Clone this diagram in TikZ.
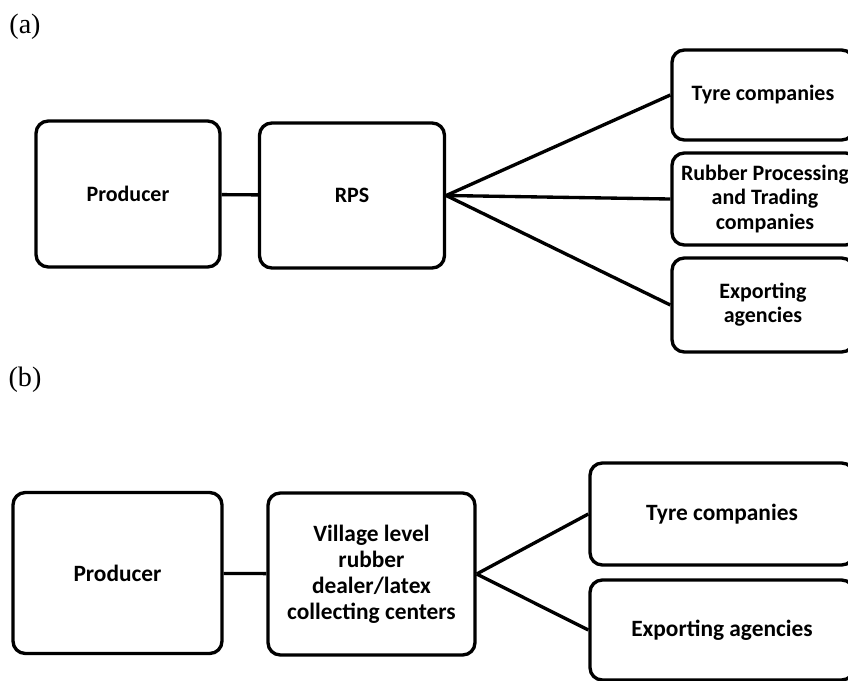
\documentclass[tikz,border=0pt]{standalone}
\usepackage{fontspec}
\setmainfont{Liberation Serif}
\newfontfamily\boxfont{Carlito}
\usetikzlibrary{positioning}

\begin{document}
\begin{tikzpicture}[x=1cm,y=1cm]
\tikzset{
  chainbox/.style={draw,rounded corners=7pt,line width=1.9pt,align=center,
    font=\boxfont\bfseries\fontsize{12.5}{13.8}\selectfont},
  chainboxb/.style={chainbox,font=\boxfont\bfseries\fontsize{13.3}{14.8}\selectfont},
  link/.style={line width=1.9pt},
  panel/.style={font=\fontsize{16}{18}\selectfont}
}
\clip (0,0) rectangle (16.96,-13.62);
% (a)
\node[panel] (lab_a) at (0.50,-0.54) {(a)};
\node[chainbox,minimum width=3.68cm,minimum height=2.92cm] (a_prod) at (2.56,-3.88) {Producer};
\node[chainbox,minimum width=3.70cm,minimum height=2.90cm] (a_rps) at (7.04,-3.91) {RPS};
\node[chainbox,minimum width=3.64cm,minimum height=1.80cm] (a_tyre) at (15.26,-1.90) {Tyre companies};
\node[chainbox,minimum width=3.72cm,minimum height=1.84cm] (a_rpt) at (15.30,-3.98) {Rubber Processing\\and Trading\\companies};
\node[chainbox,minimum width=3.64cm,minimum height=1.88cm] (a_exp) at (15.26,-6.10) {Exporting\\agencies};
\draw[link] (a_prod) -- (a_rps);
\draw[link] (a_rps.east) -- (a_tyre.west);
\draw[link] (a_rps.east) -- (a_rpt.west);
\draw[link] (a_rps.east) -- (a_exp.west);
% (b)
\node[panel] (lab_b) at (0.50,-7.60) {(b)};
\node[chainboxb,minimum width=4.18cm,minimum height=3.22cm] (b_prod) at (2.35,-11.46) {Producer};
\node[chainboxb,minimum width=4.14cm,minimum height=3.24cm] (b_vil) at (7.43,-11.48) {Village level\\rubber\\dealer/latex\\collecting centers};
\node[chainboxb,minimum width=5.28cm,minimum height=2.04cm] (b_tyre) at (14.44,-10.28) {Tyre companies};
\node[chainboxb,minimum width=5.28cm,minimum height=2.00cm] (b_exp) at (14.44,-12.60) {Exporting agencies};
\draw[link] (b_prod) -- (b_vil);
\draw[link] (b_vil.east) -- (b_tyre.west);
\draw[link] (b_vil.east) -- (b_exp.west);
\end{tikzpicture}
\end{document}
